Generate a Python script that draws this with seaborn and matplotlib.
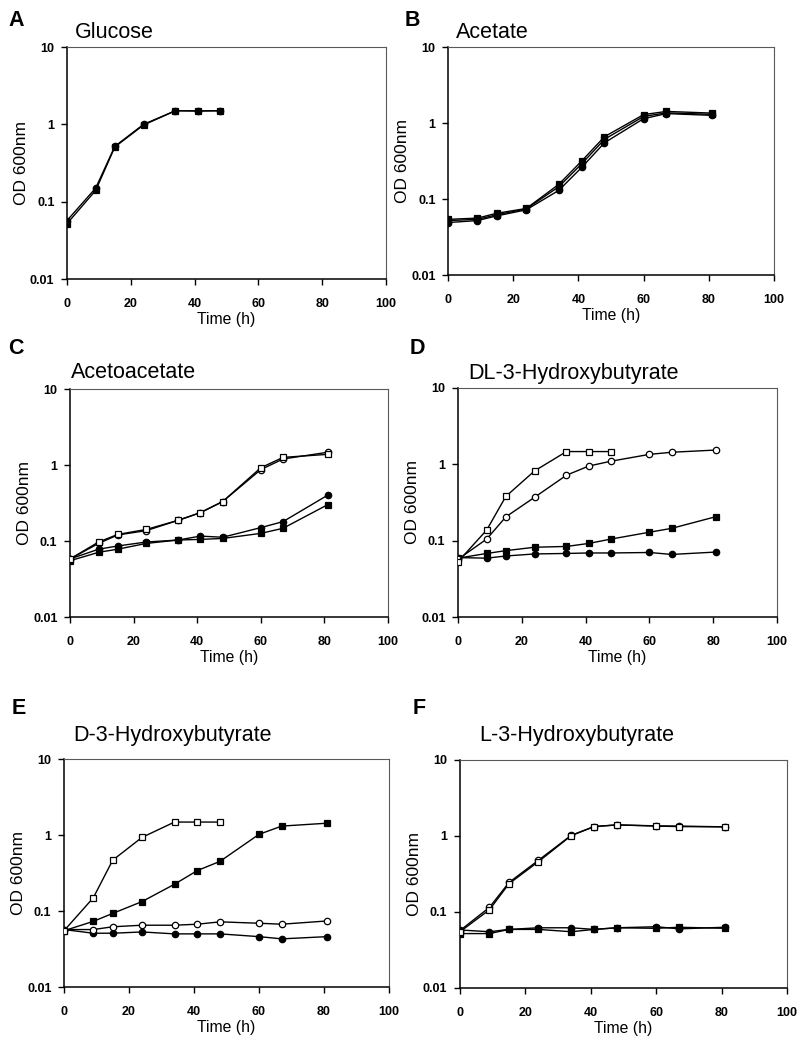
import numpy as np
import pandas as pd
import matplotlib
matplotlib.use('Agg')
import matplotlib.pyplot as plt
import matplotlib.ticker as mticker
import seaborn as sns

# sampling times (h)
times = [0, 9, 15, 24, 34, 41, 48, 60, 67, 81]
times_short = [0, 9, 15, 24, 34, 41, 48]

# A - Glucose
glc_sq = [0.052, 0.14, 0.51, 0.98, 1.5, 1.49, 1.5]
glc_ci = [0.057, 0.15, 0.52, 1.0, 1.5, 1.49, 1.5]

# B - Acetate
ace_sq = [0.054, 0.056, 0.065, 0.075, 0.156, 0.316, 0.66, 1.29, 1.42, 1.35]
ace_ci = [0.049, 0.052, 0.060, 0.072, 0.13, 0.26, 0.55, 1.14, 1.33, 1.26]
ace_sq2 = [0.052, 0.054, 0.062, 0.074, 0.145, 0.29, 0.61, 1.22, 1.36, 1.30]

# C - Acetoacetate
aca_open_sq = [0.058, 0.097, 0.122, 0.142, 0.187, 0.236, 0.33, 0.92, 1.26, 1.38]
aca_open_ci = [0.058, 0.093, 0.12, 0.137, 0.187, 0.236, 0.33, 0.87, 1.2, 1.47]
aca_fill_ci = [0.058, 0.078, 0.086, 0.097, 0.103, 0.116, 0.112, 0.15, 0.18, 0.40]
aca_fill_sq = [0.055, 0.071, 0.078, 0.093, 0.103, 0.105, 0.108, 0.126, 0.147, 0.30]

# D - DL-3-Hydroxybutyrate
dl_open_sq = [0.053, 0.138, 0.38, 0.82, 1.47, 1.47, 1.47]
dl_open_ci = [0.057, 0.105, 0.205, 0.37, 0.72, 0.95, 1.1, 1.35, 1.44, 1.54]
dl_fill_sq = [0.059, 0.068, 0.074, 0.082, 0.084, 0.092, 0.105, 0.129, 0.145, 0.207]
dl_fill_ci = [0.060, 0.059, 0.063, 0.067, 0.068, 0.069, 0.069, 0.070, 0.066, 0.071]

# E - D-3-Hydroxybutyrate
d_open_sq = [0.055, 0.149, 0.467, 0.93, 1.48, 1.48, 1.48]
d_fill_sq = [0.055, 0.073, 0.093, 0.133, 0.225, 0.34, 0.45, 1.02, 1.31, 1.43]
d_open_ci = [0.057, 0.057, 0.062, 0.065, 0.065, 0.067, 0.072, 0.069, 0.067, 0.074]
d_fill_ci = [0.057, 0.051, 0.051, 0.053, 0.050, 0.050, 0.050, 0.046, 0.043, 0.046]

# F - L-3-Hydroxybutyrate
l_open_sq = [0.055, 0.107, 0.236, 0.46, 1.01, 1.33, 1.40, 1.35, 1.33, 1.32]
l_open_ci = [0.057, 0.115, 0.245, 0.48, 1.02, 1.33, 1.40, 1.36, 1.35, 1.32]
l_fill_sq = [0.052, 0.052, 0.059, 0.059, 0.055, 0.059, 0.062, 0.061, 0.063, 0.061]
l_fill_ci = [0.058, 0.055, 0.059, 0.062, 0.062, 0.059, 0.062, 0.064, 0.060, 0.063]

W, H = 800, 1050

sns.set_style('ticks')
plt.rcParams['font.family'] = ['Liberation Sans', 'DejaVu Sans']
plt.rcParams['text.color'] = 'black'
plt.rcParams['axes.labelcolor'] = 'black'
plt.rcParams['xtick.color'] = 'black'
plt.rcParams['ytick.color'] = 'black'


def px_rect(left, right, top, bottom):
    # pixel box (origin top-left) -> figure fraction rect
    return [left / W, 1 - bottom / H, (right - left) / W, (bottom - top) / H]


def draw_series(ax, x, y, marker, filled):
    face = 'black' if filled else 'white'
    size = 4.2 if marker == 's' else 4.6
    sns.lineplot(x=x, y=y, ax=ax, color='black', linewidth=1.0,
                 marker=marker, markersize=size, markerfacecolor=face,
                 markeredgecolor='black', markeredgewidth=0.9, zorder=3)


def style_axes(ax):
    ax.set_yscale('log')
    ax.set_ylim(0.01, 10)
    ax.set_xlim(0, 100)
    ax.set_xticks([0, 20, 40, 60, 80, 100])
    ax.set_yticks([0.01, 0.1, 1, 10])
    ax.yaxis.set_major_formatter(mticker.FixedFormatter(['0.01', '0.1', '1', '10']))
    ax.yaxis.set_minor_locator(mticker.NullLocator())
    ax.tick_params(axis='both', which='major', length=4, width=1.0, color='black',
                   labelcolor='black', labelsize=9)
    ax.tick_params(axis='x', pad=10)
    ax.tick_params(axis='y', pad=5)
    for lab in ax.get_xticklabels() + ax.get_yticklabels():
        lab.set_fontweight('bold')
    ax.spines['left'].set_linewidth(1.1)
    ax.spines['bottom'].set_linewidth(1.1)
    ax.spines['left'].set_color('black')
    ax.spines['bottom'].set_color('black')
    ax.spines['top'].set_linewidth(0.8)
    ax.spines['right'].set_linewidth(0.8)
    ax.spines['top'].set_color('0.35')
    ax.spines['right'].set_color('0.35')
    ax.set_xlabel('Time (h)', fontsize=11.3, labelpad=1)
    ax.set_ylabel('OD 600nm', fontsize=12.5, labelpad=1)
    ax.grid(False)


fig = plt.figure(figsize=(W / 100, H / 100), dpi=100)

panels = [
    # letter, title, rect(px), letter pos, title pos
    ('A', 'Glucose', (67, 386, 47, 279), (8, 20), (75, 33)),
    ('B', 'Acetate', (448, 774, 47, 275), (405, 20), (456, 33)),
    ('C', 'Acetoacetate', (70, 388, 389, 617), (8, 348), (71, 373)),
    ('D', 'DL-3-Hydroxybutyrate', (458, 777, 388, 617), (410, 348), (468, 373)),
    ('E', 'D-3-Hydroxybutyrate', (64, 389, 759, 987), (12, 709), (73, 735)),
    ('F', 'L-3-Hydroxybutyrate', (460, 787, 760, 988), (413, 709), (479, 735)),
]

axes = {}
for letter, title, rect, lpos, tpos in panels:
    ax = fig.add_axes(px_rect(*rect))
    axes[letter] = ax
    fig.text(lpos[0] / W, 1 - lpos[1] / H, letter, fontsize=15.5, fontweight='bold',
             ha='left', va='center')
    fig.text(tpos[0] / W, 1 - tpos[1] / H, title, fontsize=15.5,
             ha='left', va='center')

# A
draw_series(axes['A'], times_short, glc_ci, 'o', True)
draw_series(axes['A'], times_short, glc_sq, 's', True)

# B
draw_series(axes['B'], times, ace_ci, 'o', True)
draw_series(axes['B'], times, ace_sq2, 's', True)
draw_series(axes['B'], times, ace_sq, 's', True)

# C
draw_series(axes['C'], times, aca_fill_sq, 's', True)
draw_series(axes['C'], times, aca_fill_ci, 'o', True)
draw_series(axes['C'], times, aca_open_ci, 'o', False)
draw_series(axes['C'], times, aca_open_sq, 's', False)

# D
draw_series(axes['D'], times, dl_fill_ci, 'o', True)
draw_series(axes['D'], times, dl_fill_sq, 's', True)
draw_series(axes['D'], times, dl_open_ci, 'o', False)
draw_series(axes['D'], times_short, dl_open_sq, 's', False)

# E
draw_series(axes['E'], times, d_fill_ci, 'o', True)
draw_series(axes['E'], times, d_open_ci, 'o', False)
draw_series(axes['E'], times, d_fill_sq, 's', True)
draw_series(axes['E'], times_short, d_open_sq, 's', False)

# F
draw_series(axes['F'], times, l_fill_ci, 'o', True)
draw_series(axes['F'], times, l_fill_sq, 's', True)
draw_series(axes['F'], times, l_open_ci, 'o', False)
draw_series(axes['F'], times, l_open_sq, 's', False)

for ax in axes.values():
    style_axes(ax)

fig.savefig('out.png', dpi=100, facecolor='white')
